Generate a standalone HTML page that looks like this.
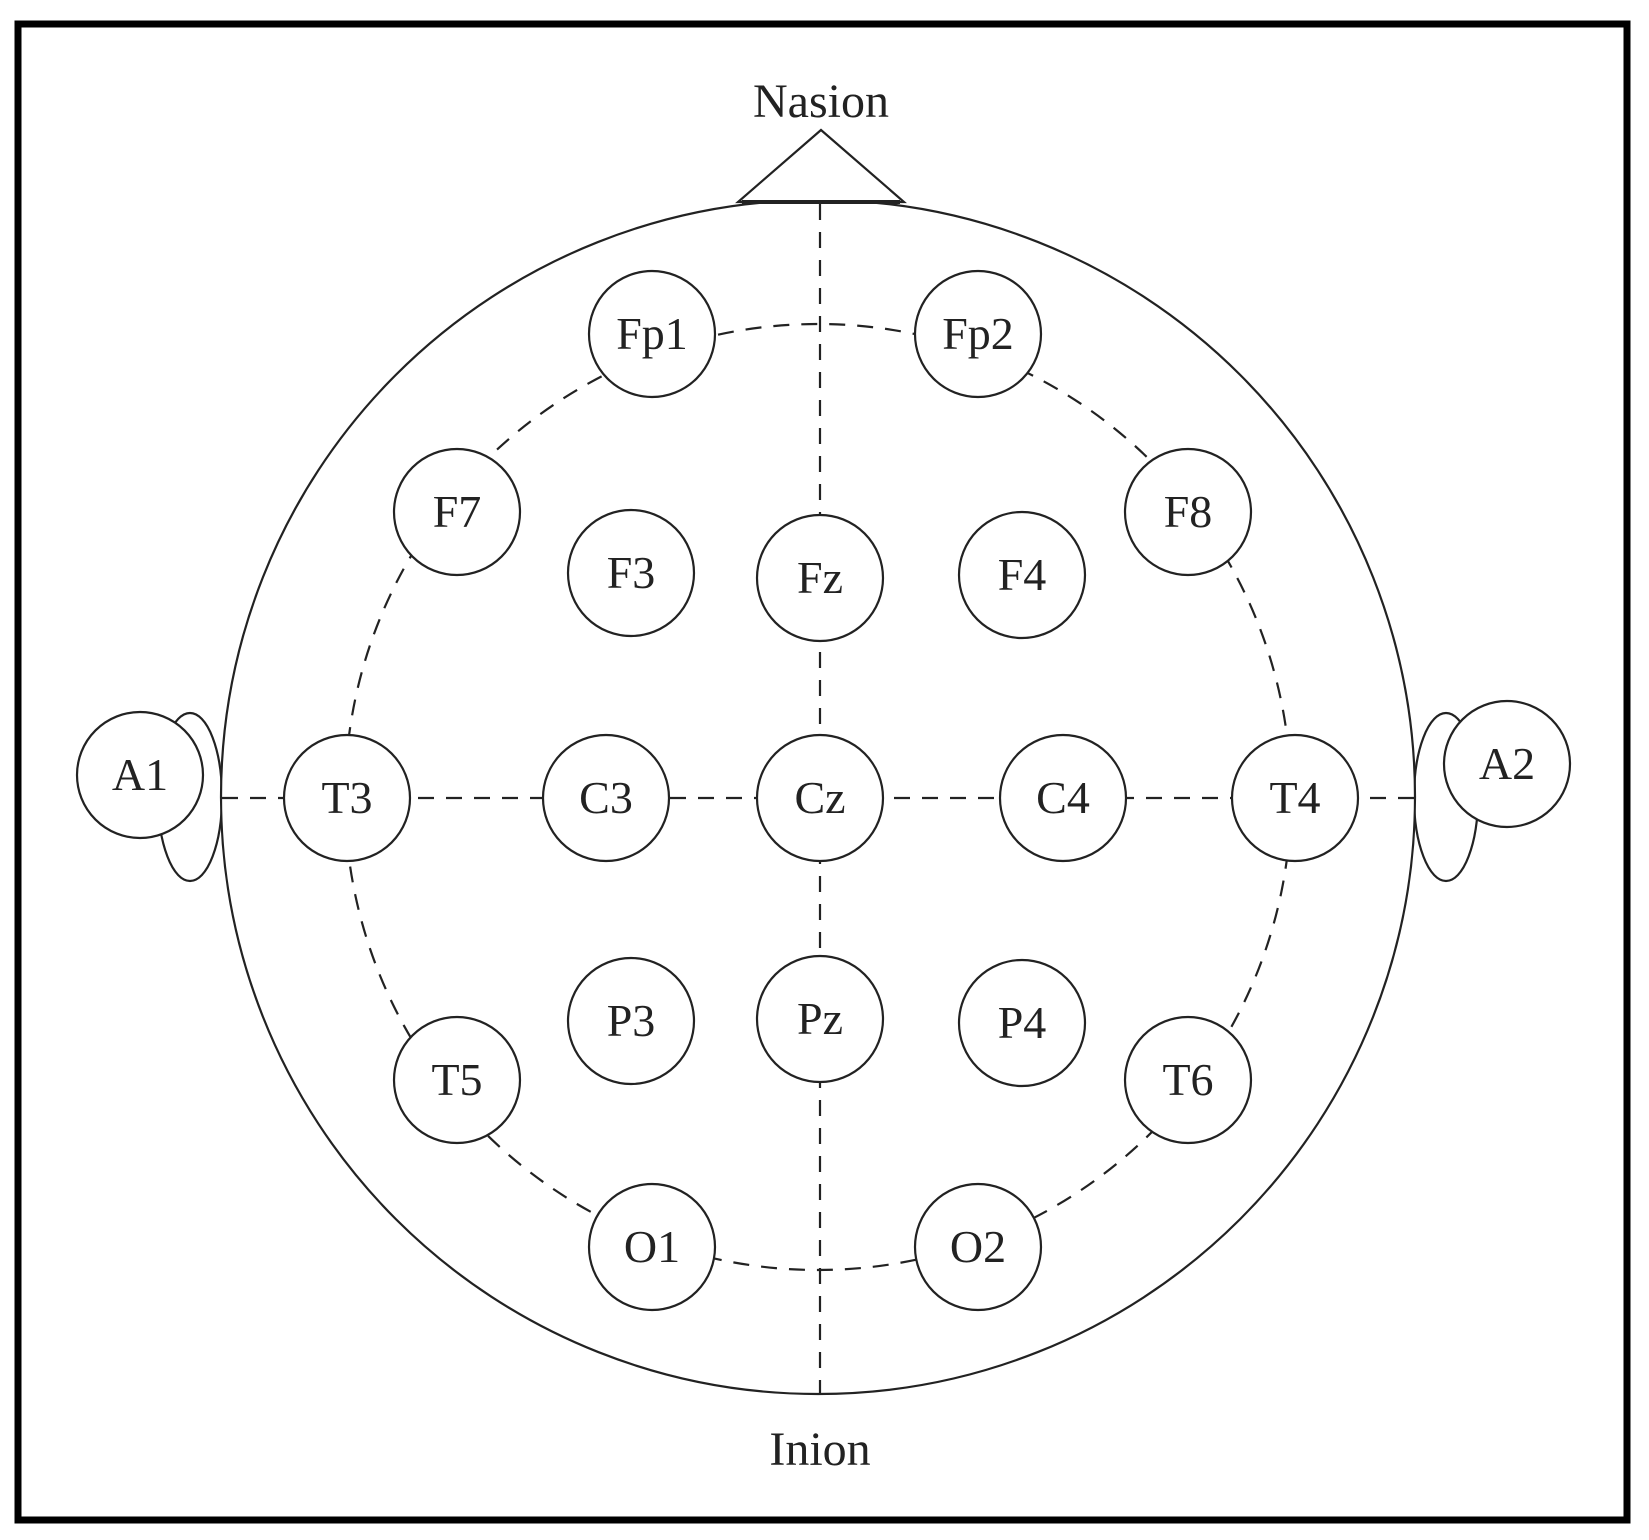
<!DOCTYPE html>
<html><head><meta charset="utf-8"><style>
html,body{margin:0;padding:0;background:#fff;}
svg{display:block;}
text{font-family:"Liberation Serif",serif;fill:#222;}
</style></head><body>
<svg width="1649" height="1540" viewBox="0 0 1649 1540" xmlns="http://www.w3.org/2000/svg">
<rect x="18" y="24" width="1609" height="1496" fill="#fff" stroke="#000" stroke-width="7"/>
<g stroke="#222" stroke-width="2.2" fill="#fff">
<ellipse cx="190" cy="797" rx="32" ry="84"/>
<ellipse cx="1446" cy="797" rx="32" ry="84"/>
<circle cx="818" cy="797" r="597"/>
<polygon points="821,130 738,202 904,202"/>
<line x1="742" y1="202" x2="900" y2="202" stroke-width="4"/>
</g>
<g stroke="#222" stroke-width="2.2" fill="none" stroke-dasharray="16,12">
<circle cx="818" cy="797" r="473"/>
<line x1="820" y1="204" x2="820" y2="1394"/>
<line x1="222" y1="798" x2="1415" y2="798"/>
</g>
<g stroke="#222" stroke-width="2.2" fill="#fff">
<circle cx="140" cy="775" r="63"/>
<circle cx="1507" cy="764" r="63"/>
<circle cx="652" cy="334" r="63"/>
<circle cx="978" cy="334" r="63"/>
<circle cx="457" cy="512" r="63"/>
<circle cx="1188" cy="512" r="63"/>
<circle cx="631" cy="573" r="63"/>
<circle cx="820" cy="578" r="63"/>
<circle cx="1022" cy="575" r="63"/>
<circle cx="347" cy="798" r="63"/>
<circle cx="606" cy="798" r="63"/>
<circle cx="820" cy="798" r="63"/>
<circle cx="1063" cy="798" r="63"/>
<circle cx="1295" cy="798" r="63"/>
<circle cx="631" cy="1021" r="63"/>
<circle cx="820" cy="1019" r="63"/>
<circle cx="1022" cy="1023" r="63"/>
<circle cx="457" cy="1080" r="63"/>
<circle cx="1188" cy="1080" r="63"/>
<circle cx="652" cy="1247" r="63"/>
<circle cx="978" cy="1247" r="63"/>
</g>
<g font-size="46" text-anchor="middle">
<text x="821" y="117" font-size="48">Nasion</text>
<text x="820" y="1465" font-size="48">Inion</text>
<text x="140" y="790">A1</text>
<text x="1507" y="779">A2</text>
<text x="652" y="349">Fp1</text>
<text x="978" y="349">Fp2</text>
<text x="457" y="527">F7</text>
<text x="1188" y="527">F8</text>
<text x="631" y="588">F3</text>
<text x="820" y="593">Fz</text>
<text x="1022" y="590">F4</text>
<text x="347" y="813">T3</text>
<text x="606" y="813">C3</text>
<text x="820" y="813">Cz</text>
<text x="1063" y="813">C4</text>
<text x="1295" y="813">T4</text>
<text x="631" y="1036">P3</text>
<text x="820" y="1034">Pz</text>
<text x="1022" y="1038">P4</text>
<text x="457" y="1095">T5</text>
<text x="1188" y="1095">T6</text>
<text x="652" y="1262">O1</text>
<text x="978" y="1262">O2</text>
</g>
</svg>
</body></html>
